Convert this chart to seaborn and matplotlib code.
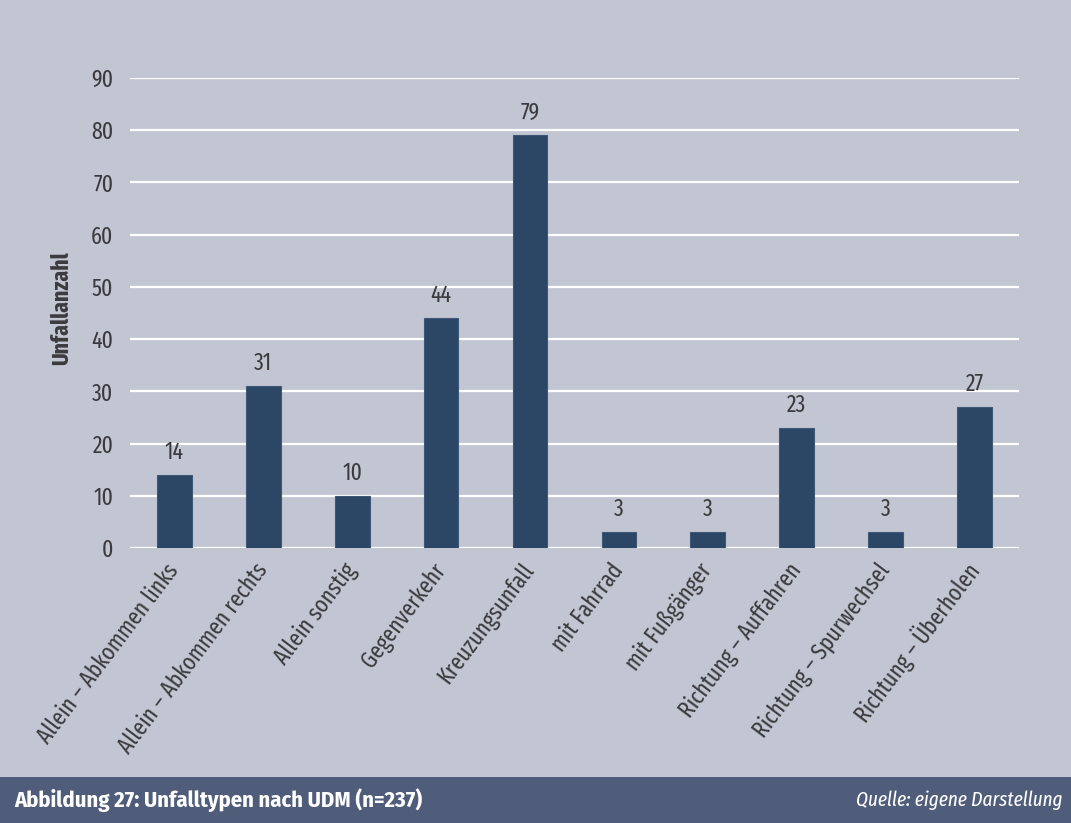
import matplotlib
matplotlib.use("Agg")
import matplotlib.pyplot as plt
import seaborn as sns
import pandas as pd

categories = [
    "Allein – Abkommen links",
    "Allein – Abkommen rechts",
    "Allein sonstig",
    "Gegenverkehr",
    "Kreuzungsunfall",
    "mit Fahrrad",
    "mit Fußgänger",
    "Richtung – Auffahren",
    "Richtung – Spurwechsel",
    "Richtung – Überholen",
]
counts = [14, 31, 10, 44, 79, 3, 3, 23, 3, 27]
y_ticks = [0, 10, 20, 30, 40, 50, 60, 70, 80, 90]

caption_left = "Abbildung 27: Unfalltypen nach UDM (n=237)"
caption_right = "Quelle: eigene Darstellung"
y_label = "Unfallanzahl"

sns.set_theme(style="white")
plt.rcParams["font.family"] = ["Fira Sans Extra Condensed", "DejaVu Sans"]

BG = "#c2c6d2"
BAR = "#2c4666"
BAND = "#4f5d7b"
TXT = "#3b3b3f"

df = pd.DataFrame({"Typ": categories, "Anzahl": counts})

fig = plt.figure(figsize=(10.71, 8.23), dpi=100, facecolor=BG)
ax = fig.add_axes([0.1214, 0.3341, 0.83, 0.5711])
ax.set_facecolor(BG)

sns.barplot(data=df, x="Typ", y="Anzahl", color=BAR, width=0.39,
            edgecolor="#3f5877", linewidth=0.8, ax=ax, zorder=3, saturation=1)

ax.set_xlim(-0.5, len(categories) - 0.5)
ax.set_ylim(0, 90)
ax.set_yticks(y_ticks)
ax.yaxis.grid(True, color="white", linewidth=1.6, zorder=0)
ax.set_axisbelow(True)
for s in ax.spines.values():
    s.set_visible(False)

ax.tick_params(axis="y", length=0, pad=12, labelsize=17, labelcolor=TXT)
ax.tick_params(axis="x", length=0, pad=13, labelsize=17, labelcolor=TXT)
ax.set_xticks(range(len(categories)))
ax.set_xticklabels(categories, rotation=53, ha="right", va="center",
                   rotation_mode="anchor")
ax.set_xlabel("")
ax.set_ylabel(y_label, fontsize=17, fontweight="bold", color=TXT)
ax.yaxis.set_label_coords(-0.064, 0.51)

for i, v in enumerate(counts):
    ax.annotate(str(v), (i, v), xytext=(0, 8), textcoords="offset points",
                ha="center", va="bottom", fontsize=17, color=TXT)

# caption band along the bottom edge
band = plt.Rectangle((0, 0), 1, 46 / 823, transform=fig.transFigure,
                     facecolor=BAND, edgecolor="none", zorder=0)
fig.patches.append(band)
fig.text(14 / 1071, 23 / 823, caption_left, color="white", fontsize=16.2,
         fontweight="bold", va="center", ha="left",
         family=["Fira Sans Condensed", "DejaVu Sans"])
fig.text(1063 / 1071, 23 / 823, caption_right, color="white", fontsize=15,
         fontstyle="italic", va="center", ha="right",
         family=["Fira Sans Extra Condensed", "DejaVu Sans"])

fig.savefig("out.png", dpi=100, facecolor=BG)
